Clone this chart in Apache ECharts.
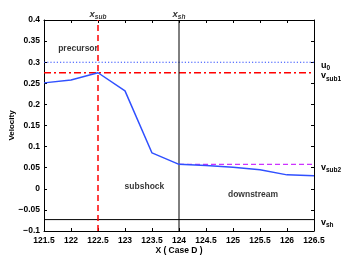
<!DOCTYPE html>
<html><head><meta charset="utf-8">
<script src="https://cdn.jsdelivr.net/npm/echarts@6/dist/echarts.min.js"></script>
<style>html,body{margin:0;padding:0;background:#fff}#c{width:346px;height:261px}</style>
</head><body><div id="c"></div>
<script>
const xValues = [121.5, 122, 122.5, 123, 123.5, 124, 124.5, 125, 125.5, 126, 126.5];
const velocity = [0.251, 0.258, 0.275, 0.232, 0.085, 0.058, 0.055, 0.051, 0.045, 0.033, 0.031];
const u0 = 0.3;
const vSub1 = 0.275;
const vSub2 = 0.058;
const vSh = -0.073;
const xSub = 122.5;
const xSh = 124;
const xMin = 121.5, xMax = 126.5, yMin = -0.1, yMax = 0.4;
const regionLabels = [
  { name: 'precursor', x: 122.13, y: 0.331 },
  { name: 'subshock', x: 123.36, y: 0.004 },
  { name: 'downstream', x: 125.37, y: -0.015 }
];

const font = 'Liberation Sans, Arial, sans-serif';
const chart = echarts.init(document.getElementById('c'));
const fmtY = v => { const s = String(+v.toFixed(2)); return s.replace('-', '\u2212'); };
const fmtX = v => String(+v.toFixed(1));
const rich = {
  i: { fontFamily: font, fontSize: 9.5, fontStyle: 'italic', fontWeight: 'bold', color: '#000', lineHeight: 12 },
  s: { fontFamily: font, fontSize: 6.5, fontStyle: 'italic', fontWeight: 'bold', color: '#000', padding: [6, 0, 0, 0], lineHeight: 12 },
  n: { fontFamily: font, fontSize: 9, fontWeight: 'bold', color: '#000', lineHeight: 12 },
  r: { fontFamily: font, fontSize: 6.5, fontWeight: 'bold', color: '#000', padding: [6, 0, 0, 0], lineHeight: 12 }
};
function hline(y, x0, color, type, width, labelText) {
  return {
    type: 'line', data: [[x0, y], [xMax, y]], symbol: 'none', silent: true,
    lineStyle: { color: color, type: type, width: width },
    endLabel: labelText ? { show: true, formatter: labelText, rich: rich, distance: 7, offset: [0, 3] } : undefined,
    z: 3
  };
}
const axisBase = {
  axisLine: { show: true, onZero: false, lineStyle: { color: '#000', width: 1 } },
  axisTick: { show: true, inside: true, length: 3, lineStyle: { color: '#000' } },
  splitLine: { show: false }
};
chart.setOption({
  animation: false,
  grid: { left: 44, right: 32, top: 20, bottom: 30, containLabel: false, outerBoundsMode: 'none' },
  xAxis: [Object.assign({
    type: 'value', min: xMin, max: xMax, interval: 0.5,
    name: 'X ( Case D )', nameLocation: 'middle', nameGap: 15, nameMoveOverlap: false,
    nameTextStyle: { fontFamily: font, fontSize: 8.5, fontWeight: 'bold', color: '#000' },
    axisLabel: { fontFamily: font, fontSize: 8.5, fontWeight: 'bold', color: '#000', margin: 5, formatter: fmtX }
  }, axisBase), Object.assign({
    type: 'value', position: 'top', min: xMin, max: xMax, interval: 0.5,
    axisLabel: { show: false }
  }, axisBase)],
  yAxis: [Object.assign({
    type: 'value', min: yMin, max: yMax, interval: 0.05,
    name: 'Velocity', nameLocation: 'middle', nameGap: 28, nameMoveOverlap: false,
    nameTextStyle: { fontFamily: font, fontSize: 8, fontWeight: 'bold', color: '#000' },
    axisLabel: { fontFamily: font, fontSize: 8.5, fontWeight: 'bold', color: '#000', margin: 4, formatter: fmtY }
  }, axisBase), Object.assign({
    type: 'value', position: 'right', min: yMin, max: yMax, interval: 0.05,
    axisLabel: { show: false }
  }, axisBase)],
  series: [
    hline(u0, xMin, '#2848ff', [1.2, 2], 1.1, '{n|u}{r|0}'),
    hline(vSub1, xMin, '#ff0000', [7, 3, 2, 3], 1.3, '{n|v}{r|sub1}'),
    hline(vSub2, xSh, '#cc33ff', [5, 3], 1.3, '{n|v}{r|sub2}'),
    hline(vSh, xMin, '#000000', 'solid', 1, '{n|v}{r|sh}'),
    {
      type: 'line', data: [[xSub, yMin], [xSub, yMax]], symbol: 'none', silent: true,
      lineStyle: { color: '#ff0000', type: [6, 4], width: 1.5 }, z: 4
    },
    {
      type: 'line', data: [[xSh, yMin], [xSh, yMax]], symbol: 'none', silent: true,
      lineStyle: { color: '#000000', type: 'solid', width: 1 }, z: 4
    },
    {
      type: 'line', data: xValues.map((x, i) => [x, velocity[i]]), symbol: 'none',
      lineStyle: { color: '#3050ff', width: 1.5 }, z: 5
    },
    {
      type: 'scatter', symbolSize: 0, silent: true,
      data: regionLabels.map(r => ({ value: [r.x, r.y], name: r.name })),
      label: { show: true, position: 'inside', formatter: p => p.name, fontFamily: font, fontSize: 8.5, fontWeight: 'bold', color: '#000' }
    },
    {
      type: 'scatter', symbolSize: 0, silent: true,
      data: [{ value: [xSub, yMax], name: 'sub' }, { value: [xSh, yMax], name: 'sh' }],
      label: { show: true, position: 'top', distance: 0, formatter: p => '{i|x}{s|' + p.name + '}', rich: rich }
    }
  ]
});
</script></body></html>
